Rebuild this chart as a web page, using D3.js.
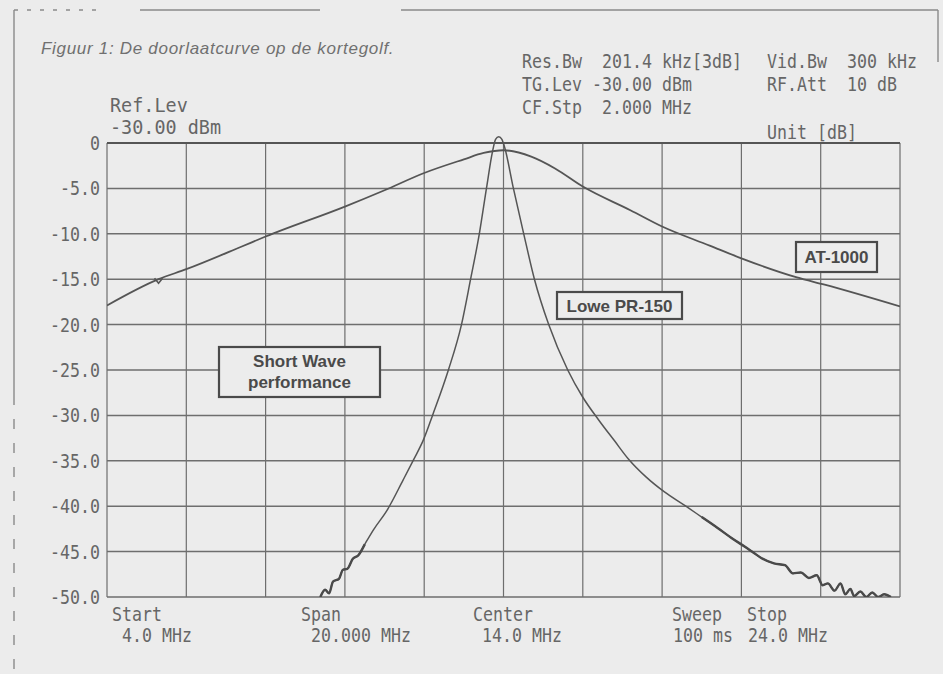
<!DOCTYPE html>
<html>
<head>
<meta charset="utf-8">
<script src="https://cdn.jsdelivr.net/npm/d3@7"></script>
<style>
  body { margin: 0; background: #ececec; }
  svg { display: block; }
  .mono { font-family: "DejaVu Sans Mono", monospace; font-size: 20px; fill: #666; white-space: pre; }
  .label { font-family: "Liberation Sans", Arial, sans-serif; font-weight: bold; font-size: 17px; fill: #4a4a4a; }
</style>
</head>
<body>
<div id="chart"></div>
<script>
// frequency axis (MHz) and level axis (dB)
const freqDomain = [4, 24];
const levelDomain = [-50, 0];
const yTicks = [0, -5, -10, -15, -20, -25, -30, -35, -40, -45, -50];
const yTickLabels = ["0", "-5.0", "-10.0", "-15.0", "-20.0", "-25.0", "-30.0", "-35.0", "-40.0", "-45.0", "-50.0"];

// AT-1000 curve
const atFreq = [4.0, 5.3, 6.0, 7.4, 8.0, 10.0, 11.0, 12.0, 13.0, 13.5, 14.0, 14.7, 15.3, 16.0, 17.2, 18.0, 19.2, 20.0, 21.4, 22.1, 24.0];
const atLevel = [-17.9, -15.0, -13.9, -11.4, -10.3, -7.0, -5.2, -3.3, -1.8, -1.1, -0.8, -1.5, -2.8, -4.8, -7.4, -9.2, -11.3, -12.7, -14.8, -15.6, -18.0];
const atMarker = 5.3;

// Lowe PR-150 curve (tails are noisy)
const loweFreq = [9.38, 9.50, 9.60, 9.70, 9.85, 9.95, 10.06, 10.20, 10.34, 10.50, 10.72, 11.07, 11.47, 11.73, 11.98, 12.21, 12.61, 12.94, 13.17, 13.39, 13.57, 13.72, 13.80, 13.88, 13.96, 14.03,
  14.25, 14.51, 14.78, 15.14, 15.62, 16.00, 16.40, 16.80, 17.15, 17.60, 18.05, 18.60, 19.00, 19.40, 19.75, 20.10, 20.30, 20.50, 20.82, 21.10, 21.30, 21.50, 21.70, 21.90, 22.05, 22.18, 22.35, 22.50,
  22.62, 22.75, 22.84, 23.00, 23.15, 23.30, 23.45, 23.60, 23.77];
const loweLevel = [-50.0, -49.2, -49.6, -48.3, -48.0, -47.0, -46.9, -45.8, -45.4, -44.2, -42.6, -40.4, -37.1, -34.9, -32.7, -30.0, -25.0, -20.0, -15.0, -10.0, -5.0, -1.0, 0.4, 0.7, 0.4, -0.5,
  -5.0, -10.0, -15.0, -20.0, -25.0, -28.0, -30.5, -32.8, -34.8, -36.8, -38.4, -40.0, -41.2, -42.4, -43.5, -44.5, -45.1, -45.7, -46.3, -46.5, -47.4, -47.3, -47.9, -47.6, -48.7, -48.5, -49.3, -48.5,
  -49.7, -49.1, -49.9, -49.4, -50.0, -49.5, -50.0, -49.7, -50.0];

const title = "Figuur 1: De doorlaatcurve op de kortegolf.";
const settingsLeft = ["Res.Bw  201.4 kHz[3dB]", "TG.Lev -30.00 dBm", "CF.Stp  2.000 MHz"];
const settingsRight = ["Vid.Bw  300 kHz", "RF.Att  10 dB"];
const refLevel = ["Ref.Lev", "-30.00 dBm"];
const unitText = "Unit [dB]";
const footLabels = [
  {top: "Start", bottom: "4.0 MHz", x: 112, xb: 122},
  {top: "Span", bottom: "20.000 MHz", x: 301, xb: 311},
  {top: "Center", bottom: "14.0 MHz", x: 473, xb: 482},
  {top: "Sweep", bottom: "100 ms", x: 672, xb: 673},
  {top: "Stop", bottom: "24.0 MHz", x: 747, xb: 748}
];

const width = 943, height = 674;
const plot = {left: 107, right: 900, top: 143, bottom: 597};
const charWidth = 10;
const lineColor = "#6e6e6e";
const curveColor = "#555";

const svg = d3.select("#chart").append("svg")
  .attr("width", width)
  .attr("height", height);

const x = d3.scaleLinear().domain(freqDomain).range([plot.left, plot.right]);
const y = d3.scaleLinear().domain(levelDomain).range([plot.bottom, plot.top]);

// monospaced analyser text, squeezed horizontally to a fixed cell width
function mono(g, str, px, py, anchor, size) {
  size = size || 20;
  const sx = charWidth / (0.602 * size);
  return g.append("text")
    .attr("class", "mono")
    .attr("transform", `translate(${px},${py}) scale(${sx},1)`)
    .attr("text-anchor", anchor || "start")
    .attr("font-size", size)
    .attr("xml:space", "preserve")
    .text(str);
}

// page frame (scanned, partly broken)
const frame = svg.append("g").attr("stroke", "#8a8a8a").attr("stroke-width", 1.4).attr("fill", "none");
frame.append("line").attr("x1", 140).attr("x2", 320).attr("y1", 10).attr("y2", 10);
frame.append("line").attr("x1", 401).attr("x2", 938).attr("y1", 10).attr("y2", 10);
frame.append("line").attr("x1", 14).attr("x2", 100).attr("y1", 10).attr("y2", 10).attr("stroke-dasharray", "4 9");
frame.append("line").attr("x1", 938).attr("x2", 938).attr("y1", 10).attr("y2", 62);
frame.append("line").attr("x1", 14).attr("x2", 14).attr("y1", 10).attr("y2", 395);
frame.append("line").attr("x1", 14).attr("x2", 14).attr("y1", 395).attr("y2", 674).attr("stroke-dasharray", "10 14");

// title
svg.append("text")
  .attr("x", 41).attr("y", 54)
  .attr("font-family", "Liberation Sans, Arial, sans-serif")
  .attr("font-style", "italic")
  .attr("font-size", 17)
  .attr("letter-spacing", 0.7)
  .attr("fill", "#707070")
  .text(title);

// header texts
const header = svg.append("g");
settingsLeft.forEach((s, i) => mono(header, s, 522, 68 + i * 23));
settingsRight.forEach((s, i) => mono(header, s, 767, 68 + i * 23));
mono(header, refLevel[0], 110, 112, "start", 18);
mono(header, refLevel[1], 110, 134, "start", 18);
mono(header, unitText, 767, 139);

// grid
const grid = svg.append("g");
grid.selectAll(".vgrid").data(x.ticks(10)).join("line")
  .attr("class", "vgrid")
  .attr("x1", d => x(d)).attr("x2", d => x(d))
  .attr("y1", plot.top).attr("y2", plot.bottom)
  .attr("stroke", lineColor).attr("stroke-width", 1.2);
grid.selectAll(".hgrid").data(yTicks).join("line")
  .attr("class", "hgrid")
  .attr("x1", plot.left).attr("x2", plot.right)
  .attr("y1", d => y(d)).attr("y2", d => y(d))
  .attr("stroke", d => d === 0 ? "#555" : lineColor)
  .attr("stroke-width", d => d === 0 ? 2.2 : 1.5);

// y labels
const yAxis = svg.append("g");
yTicks.forEach((v, i) => mono(yAxis, yTickLabels[i], 100, y(v) + 7, "end"));

// curves
svg.append("clipPath").attr("id", "plot-clip")
  .append("rect")
  .attr("x", plot.left).attr("y", plot.top - 12)
  .attr("width", plot.right - plot.left).attr("height", plot.bottom - plot.top + 12);

const line = d3.line()
  .x(d => x(d[0]))
  .y(d => y(d[1]))
  .curve(d3.curveMonotoneX);

const curves = svg.append("g").attr("clip-path", "url(#plot-clip)");
curves.append("path")
  .datum(d3.zip(atFreq, atLevel))
  .attr("d", line)
  .attr("fill", "none")
  .attr("stroke", curveColor)
  .attr("stroke-width", 1.8);

const lowePoints = d3.zip(loweFreq, loweLevel);
curves.append("path")
  .datum(lowePoints)
  .attr("d", line)
  .attr("fill", "none")
  .attr("stroke", curveColor)
  .attr("stroke-width", 1.5);

// the noisy tails print heavier
[lowePoints.filter(d => d[0] <= 10.6), lowePoints.filter(d => d[0] >= 19.0)].forEach(seg => {
  curves.append("path")
    .datum(seg)
    .attr("d", line)
    .attr("fill", "none")
    .attr("stroke", "#4a4a4a")
    .attr("stroke-width", 2.4);
});

// marker on AT-1000 curve
const mi = atFreq.indexOf(atMarker);
curves.append("path")
  .attr("d", `M${x(atMarker) - 4},${y(atLevel[mi]) - 1}L${x(atMarker)},${y(atLevel[mi]) + 4}L${x(atMarker) + 4},${y(atLevel[mi]) - 1}`)
  .attr("fill", "none")
  .attr("stroke", curveColor)
  .attr("stroke-width", 1.6);

// label boxes
function box(x0, y0, w, h, lines, baselines) {
  const g = svg.append("g");
  g.append("rect")
    .attr("x", x0).attr("y", y0).attr("width", w).attr("height", h)
    .attr("fill", "#ececec").attr("stroke", "#4a4a4a").attr("stroke-width", 2.2);
  lines.forEach((t, i) => g.append("text")
    .attr("class", "label")
    .attr("x", x0 + w / 2).attr("y", baselines[i])
    .attr("text-anchor", "middle")
    .text(t));
}
box(796, 242, 81, 30, ["AT-1000"], [263]);
box(557, 292, 125, 27, ["Lowe PR-150"], [312]);
box(219, 347, 161, 50, ["Short Wave", "performance"], [367, 388]);

// footer texts
const foot = svg.append("g");
footLabels.forEach(f => {
  mono(foot, f.top, f.x, 621);
  mono(foot, f.bottom, f.xb, 642);
});
</script>
</body>
</html>
